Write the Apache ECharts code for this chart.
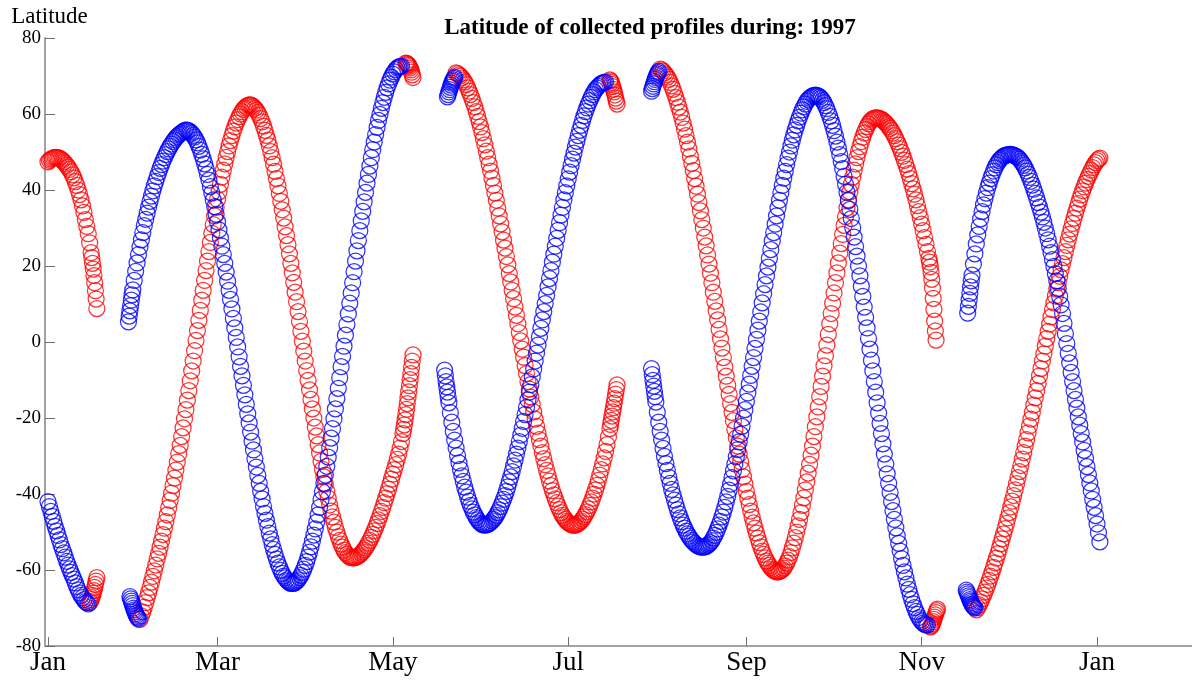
<!DOCTYPE html>
<html>
<head>
<meta charset="utf-8">
<script src="https://cdn.jsdelivr.net/npm/echarts@6/dist/echarts.min.js"></script>
<style>
  html, body { margin: 0; padding: 0; background: #fff; }
  #chart { width: 1192px; height: 680px; }
</style>
</head>
<body>
<div id="chart"></div>
<script>
// Day 0 = 1 January 1997. Each run is one continuous stretch of profiles:
// latitudes listed from the run's first day, one value per step (days).
const monthTickDays = [0, 59, 120, 181, 243, 304, 365];
const monthTickLabels = ['Jan', 'Mar', 'May', 'Jul', 'Sep', 'Nov', 'Jan'];

// ---- red profiles ----
const red1 = [47.4, 47.8, 48.1, 48.3, 48.5, 48.6, 48.6, 48.5, 48.4, 48.1, 47.8, 47.4, 47.0, 46.5, 46.0, 45.4, 44.8, 44.0, 43.2, 42.2,
  41.2, 40.0, 38.8, 37.4, 35.8, 34.1, 32.2, 30.4, 28.5, 26.1, 23.5];
const red1b = [22.2, 20.7, 19.2, 17.5, 15.6, 13.5, 11.3, 8.8];
const red2 = [-68.6, -68.3, -67.8, -67.3, -66.7, -66.1, -65.4, -64.6, -63.8, -62.9, -62.0];
const red3 = [
  -73.0, -72.1, -71.0, -69.8, -68.6, -67.3, -66.0, -64.6, -63.2, -61.7,
  -60.2, -58.7, -57.1, -55.6, -54.0, -52.4, -50.7, -49.0, -47.3, -45.5,
  -43.6, -41.7, -39.8, -37.8, -35.8, -33.7, -31.6, -29.4, -27.2, -24.9,
  -22.6, -20.2, -17.8, -15.3, -12.8, -10.2, -7.6, -5.0, -2.3, 0.4,
  3.0, 5.7, 8.3, 11.0, 13.6, 16.2, 18.8, 21.3, 23.8, 26.2,
  28.6, 30.9, 33.2, 35.4, 37.5, 39.5, 41.5, 43.4, 45.2, 46.9,
  48.6, 50.1, 51.6, 53.0, 54.3, 55.5, 56.6, 57.6, 58.5, 59.3,
  60.0, 60.6, 61.2, 61.6, 62.0, 62.3, 62.4, 62.4, 62.2, 61.9,
  61.5, 61.0, 60.4, 59.7, 58.8, 57.9, 56.8, 55.7, 54.4, 53.1,
  51.6, 50.1, 48.5, 46.8, 44.9, 43.0, 41.1, 39.1, 37.0, 34.8,
  32.6, 30.3, 28.0, 25.6, 23.2, 20.7, 18.2, 15.7, 13.1, 10.6,
  8.0, 5.4, 2.8, 0.2, -2.4, -5.0, -7.5, -10.1, -12.6, -15.1,
  -17.6, -20.0, -22.4, -24.7, -27.0, -29.2, -31.4, -33.5, -35.5, -37.4,
  -39.3, -41.1, -42.9, -44.5, -46.0, -47.4, -48.8, -50.0, -51.2, -52.2,
  -53.2, -54.0, -54.8, -55.4, -55.9, -56.3, -56.6, -56.7, -56.8, -56.8,
  -56.7, -56.5, -56.3, -56.0, -55.6, -55.2, -54.7, -54.2, -53.6, -52.9,
  -52.2, -51.4, -50.6, -49.7, -48.8, -47.8, -46.8, -45.7, -44.6, -43.5,
  -42.3, -41.1, -39.9, -38.7, -37.4, -36.1, -34.8, -33.6, -32.3, -30.9,
  -29.5, -27.9, -26.2, -24.1];
const red3b = [-23.0, -21.8, -20.5, -19.1, -17.7, -16.2, -14.7, -13.1, -11.5, -9.9, -8.3, -6.7, -5.0, -3.4];
const red4 = [73.4, 73.35, 73.2, 73.0, 72.8, 72.5, 72.1, 71.6, 71.0, 70.3, 69.6];
const red5 = [
  70.8, 70.6, 70.3, 70.0, 69.5, 69.0, 68.4, 67.7, 66.9, 66.0,
  65.1, 64.1, 63.0, 61.9, 60.6, 59.4, 58.0, 56.6, 55.1, 53.5,
  51.9, 50.2, 48.5, 46.8, 45.0, 43.1, 41.2, 39.2, 37.3, 35.2,
  33.2, 31.1, 29.0, 26.8, 24.7, 22.5, 20.3, 18.0, 15.8, 13.6,
  11.4, 9.2, 7.0, 4.8, 2.5, 0.3, -1.9, -4.0, -6.2, -8.3,
  -10.4, -12.4, -14.5, -16.4, -18.4, -20.3, -22.2, -24.0, -25.7, -27.4,
  -29.1, -30.7, -32.3, -33.8, -35.2, -36.6, -37.8, -39.1, -40.2, -41.3,
  -42.3, -43.2, -44.1, -44.9, -45.6, -46.2, -46.7, -47.2, -47.5, -47.8,
  -48.0, -48.2, -48.2, -48.2, -48.0, -47.8, -47.5, -47.1, -46.6, -46.0,
  -45.4, -44.7, -43.9, -43.0, -42.1, -41.1, -40.0, -38.9, -37.7, -36.4,
  -35.0, -33.6, -32.1, -30.5, -28.8, -27.0, -25.0, -22.8];
const red5b = [-21.7, -20.6, -19.5, -18.4, -17.3, -16.1, -14.9, -13.7, -12.5, -11.3];
const red6 = [69.0, 68.7, 68.3, 67.8, 67.2, 66.5, 65.8, 65.0, 64.2, 63.4, 62.6];
const red7 = [
  71.8, 71.6, 71.3, 70.8, 70.3, 69.7, 69.1, 68.3, 67.4, 66.5,
  65.4, 64.3, 63.1, 61.8, 60.5, 59.1, 57.6, 56.0, 54.3, 52.6,
  50.8, 48.9, 47.0, 45.1, 43.0, 41.0, 38.9, 36.7, 34.5, 32.2,
  30.0, 27.6, 25.3, 22.9, 20.5, 18.1, 15.6, 13.1, 10.7, 8.2,
  5.8, 3.3, 0.8, -1.6, -4.1, -6.6, -9.0, -11.4, -13.8, -16.2,
  -18.5, -20.7, -23.0, -25.2, -27.4, -29.5, -31.5, -33.6, -35.5, -37.4,
  -39.3, -41.1, -42.8, -44.5, -46.1, -47.6, -49.0, -50.3, -51.6, -52.8,
  -53.9, -55.0, -55.9, -56.8, -57.6, -58.2, -58.8, -59.3, -59.8, -60.1,
  -60.3, -60.5, -60.5, -60.4, -60.2, -59.9, -59.5, -58.9, -58.2, -57.4,
  -56.5, -55.4, -54.2, -52.9, -51.5, -50.0, -48.4, -46.7, -44.9, -43.0,
  -41.0, -38.9, -36.8, -34.5, -32.2, -29.8, -27.4, -24.9, -22.3, -19.7,
  -17.1, -14.4, -11.7, -9.0, -6.3, -3.6, -0.8, 2.0, 4.8, 7.5,
  10.2, 12.9, 15.6, 18.2, 20.8, 23.4, 25.9, 28.3, 30.7, 33.0,
  35.3, 37.4, 39.5, 41.5, 43.4, 45.2, 46.9, 48.5, 50.1, 51.4,
  52.7, 53.9, 55.0, 55.9, 56.7, 57.4, 58.0, 58.4, 58.7, 58.9,
  59.0, 59.0, 58.9, 58.8, 58.6, 58.3, 58.0, 57.6, 57.2, 56.7,
  56.2, 55.6, 55.0, 54.3, 53.5, 52.7, 51.8, 50.9, 49.9, 48.9,
  47.8, 46.7, 45.5, 44.3, 43.0, 41.7, 40.3, 38.9, 37.4, 35.9,
  34.3, 32.7, 31.0, 29.3, 27.5, 25.7, 23.8, 22.0];
const red7b = [21.0, 19.8, 18.3, 16.5, 14.2, 11.5, 8.6, 5.5, 2.9, 0.5];
const red8 = [-75.0, -74.8, -74.5, -74.1, -73.6, -73.0, -72.4, -71.8, -71.2, -70.7, -70.3];
const red9 = [
  -70.5, -69.9, -69.2, -68.4, -67.6, -66.7, -65.8, -64.8, -63.8, -62.7,
  -61.6, -60.5, -59.3, -58.1, -56.9, -55.7, -54.4, -53.1, -51.8, -50.5,
  -49.1, -47.7, -46.3, -44.9, -43.4, -41.9, -40.4, -38.9, -37.3, -35.7,
  -34.1, -32.5, -30.8, -29.1, -27.4, -25.7, -23.9, -22.1, -20.3, -18.5,
  -16.6, -14.7, -12.8, -10.9, -8.9, -7.0, -5.0, -3.1, -1.1, 0.9,
  2.8, 4.7, 6.6, 8.5, 10.3, 12.1, 13.9, 15.6, 17.3, 19.0,
  20.6, 22.2, 23.8, 25.4, 26.9, 28.4, 29.8, 31.2, 32.6, 33.9,
  35.2, 36.4, 37.6, 38.7, 39.8, 40.8, 41.8, 42.7, 43.6, 44.4,
  45.2, 45.9, 46.6, 47.2, 47.7, 48.1, 48.4];
const redRuns     = [red1, red1b, red2, red3, red3b, red4, red5, red5b, red6, red7, red7b, red8, red9];
const redRunStart = [0, 15.25, 14.5, 32, 123.75, 124.5, 142, 195.75, 195.5, 213, 306.75, 307, 323];
const redRunStep  = [0.5, 0.25, 0.25, 0.5, 0.25, 0.25, 0.5, 0.25, 0.25, 0.5, 0.25, 0.25, 0.5];

// ---- blue profiles ----
const blue1 = [-42.0, -43.3, -44.6, -45.9, -47.2, -48.5, -49.7, -50.9, -52.1, -53.3,
  -54.4, -55.5, -56.6, -57.7, -58.7, -59.7, -60.6, -61.5, -62.4, -63.4,
  -64.4, -65.2, -66.0, -66.7, -67.3, -67.8, -68.3, -68.6, -68.9];
const blue2 = [-67.0, -67.6, -68.2, -68.8, -69.4, -70.0, -70.5, -71.0, -71.5, -71.9, -72.3, -72.6, -72.9];
const blue3a = [5.3, 6.8, 8.2, 9.6, 11.0, 12.4, 13.7];
const blue3 = [
  16.2, 18.6, 20.8, 23.0, 25.0, 26.9,
  28.8, 30.6, 32.3, 33.9, 35.5, 37.0, 38.4, 39.8, 41.1, 42.3,
  43.5, 44.6, 45.7, 46.7, 47.6, 48.5, 49.3, 50.1, 50.8, 51.5,
  52.1, 52.7, 53.2, 53.7, 54.1, 54.5, 54.8, 55.1, 55.4, 55.6,
  55.8, 55.7, 55.6, 55.3, 54.9, 54.4, 53.9, 53.2, 52.4, 51.5,
  50.5, 49.4, 48.2, 46.9, 45.6, 44.1, 42.6, 40.9, 39.2, 37.4,
  35.6, 33.6, 31.6, 29.5, 27.4, 25.2, 23.0, 20.7, 18.4, 16.0,
  13.6, 11.2, 8.7, 6.2, 3.7, 1.2, -1.3, -3.9, -6.4, -8.9,
  -11.4, -13.9, -16.4, -18.9, -21.3, -23.7, -26.1, -28.4, -30.7, -32.9,
  -35.1, -37.2, -39.3, -41.3, -43.3, -45.1, -46.9, -48.6, -50.3, -51.8,
  -53.3, -54.6, -55.9, -57.1, -58.2, -59.2, -60.1, -60.9, -61.6, -62.1,
  -62.6, -63.0, -63.3, -63.5, -63.5, -63.5, -63.3, -63.0, -62.6, -62.0,
  -61.4, -60.6, -59.8, -58.8, -57.8, -56.6, -55.3, -53.9, -52.4, -50.8,
  -49.2, -47.4, -45.5, -43.5, -41.5, -39.4, -37.2, -35.0, -32.7, -30.3,
  -27.8, -25.3, -22.8, -20.2, -17.6, -14.9, -12.2, -9.4, -6.5, -3.8,
  -1.1, 1.8, 4.6, 7.4, 10.2, 12.9, 15.6, 18.5, 21.3, 24.0,
  26.7, 29.3, 31.9, 34.4, 36.9, 39.4, 41.8, 44.1, 46.3, 48.5,
  50.6, 52.6, 54.6, 56.5, 58.3, 59.9, 61.5, 63.0, 64.4, 65.7,
  66.9, 67.9, 68.9, 69.7, 70.5, 71.1, 71.7, 72.1, 72.4, 72.5,
  72.6];
const blue4 = [64.5, 65.1, 65.8, 66.4, 67.0, 67.6, 68.1, 68.6, 69.0, 69.4, 69.7];
const blue5a = [-7.4, -8.9, -10.4, -11.8, -13.2, -14.6, -16.0];
const blue5 = [
  -18.6, -21.1, -23.5, -25.8, -27.9, -29.9,
  -31.8, -33.5, -35.2, -36.7, -38.2, -39.5, -40.8, -41.9, -43.0, -43.9,
  -44.8, -45.5, -46.2, -46.8, -47.3, -47.7, -48.0, -48.1, -48.2, -48.1,
  -48.0, -47.8, -47.5, -47.1, -46.7, -46.2, -45.6, -44.9, -44.2, -43.3,
  -42.4, -41.4, -40.4, -39.3, -38.1, -36.8, -35.5, -34.1, -32.6, -31.1,
  -29.5, -27.9, -26.2, -24.5, -22.7, -20.9, -19.1, -17.2, -15.2, -13.2,
  -11.2, -9.2, -7.1, -5.0, -2.9, -0.8, 1.4, 3.6, 5.8, 8.0,
  10.1, 12.3, 14.5, 16.7, 18.8, 21.0, 23.1, 25.2, 27.3, 29.4,
  31.4, 33.4, 35.4, 37.4, 39.3, 41.1, 42.9, 44.7, 46.4, 48.1,
  49.7, 51.3, 52.8, 54.3, 55.7, 57.0, 58.3, 59.5, 60.6, 61.6,
  62.6, 63.5, 64.4, 65.1, 65.8, 66.4, 66.9, 67.3, 67.7, 68.0,
  68.2, 68.3, 68.4];
const blue6 = [66.0, 66.7, 67.3, 67.9, 68.5, 69.1, 69.6, 70.1, 70.5, 70.9, 71.2];
const blue7a = [-7.0, -8.6, -10.1, -11.6, -13.0, -14.4, -15.8];
const blue7 = [
  -18.5, -21.1, -23.5, -25.8, -28.0, -30.1,
  -32.0, -33.8, -35.6, -37.2, -38.8, -40.2, -41.6, -42.9, -44.1, -45.2,
  -46.3, -47.3, -48.2, -49.0, -49.8, -50.5, -51.1, -51.7, -52.2, -52.6,
  -53.0, -53.3, -53.6, -53.8, -53.9, -54.0, -54.0, -53.9, -53.8, -53.5,
  -53.2, -52.8, -52.3, -51.6, -50.9, -50.1, -49.2, -48.2, -47.2, -46.0,
  -44.8, -43.5, -42.1, -40.6, -39.0, -37.4, -35.7, -33.9, -32.1, -30.2,
  -28.3, -26.3, -24.3, -22.2, -20.0, -17.8, -15.6, -13.4, -11.1, -8.8,
  -6.4, -4.1, -1.7, 0.7, 3.1, 5.5, 7.9, 10.3, 12.7, 15.1,
  17.4, 19.7, 22.0, 24.3, 26.6, 28.8, 31.0, 33.2, 35.3, 37.3,
  39.3, 41.2, 43.1, 44.9, 46.7, 48.4, 50.0, 51.6, 53.1, 54.5,
  55.8, 57.0, 58.2, 59.2, 60.2, 61.1, 61.9, 62.6, 63.3, 63.8,
  64.2, 64.5, 64.8, 64.9, 65.0, 64.9, 64.8, 64.5, 64.1, 63.6,
  63.0, 62.2, 61.4, 60.4, 59.4, 58.2, 57.0, 55.6, 54.2, 52.6,
  51.0, 49.3, 47.5, 45.6, 43.6, 41.5, 39.4, 37.2, 34.9, 32.5,
  30.1, 27.6, 25.1, 22.6, 20.0, 17.4, 14.7, 12.0, 9.2, 6.5,
  3.7, 0.9, -1.9, -4.8, -7.6, -10.4, -13.2, -16.0, -18.7, -21.4,
  -24.1, -26.8, -29.5, -32.1, -34.7, -37.2, -39.6, -42.0, -44.4, -46.7,
  -48.9, -51.0, -53.0, -55.0, -57.0, -58.8, -60.5, -62.1, -63.7, -65.1,
  -66.5, -67.7, -68.9, -69.9, -70.9, -71.7, -72.5, -73.1, -73.6, -74.0,
  -74.3, -74.4, -74.5];
const blue8 = [-65.3, -65.8, -66.3, -66.8, -67.3, -67.8, -68.2, -68.6, -69.0, -69.3, -69.6, -69.8, -70.0];
const blue9a = [7.6, 9.4, 11.1, 12.8, 14.5, 16.1, 17.6];
const blue9 = [
  20.5, 23.2, 25.8, 28.2, 30.4, 32.4,
  34.3, 36.1, 37.7, 39.2, 40.6, 41.8, 43.0, 44.0, 45.0, 45.8,
  46.6, 47.2, 47.8, 48.2, 48.6, 48.9, 49.1, 49.2, 49.3, 49.4,
  49.4, 49.3, 49.2, 49.0, 48.8, 48.5, 48.1, 47.6, 47.1, 46.5,
  45.8, 45.0, 44.2, 43.3, 42.3, 41.3, 40.2, 39.1, 37.9, 36.7,
  35.5, 34.2, 32.9, 31.5, 30.0, 28.5, 26.9, 25.2, 23.5, 21.7,
  19.9, 18.0, 16.1, 14.1, 12.0, 9.8, 7.5, 4.9, 2.2, -0.4,
  -3.0, -5.5, -8.0, -10.4, -12.8, -15.1, -17.4, -19.7, -21.9, -24.1,
  -26.3, -28.5, -30.6, -32.8, -34.9, -37.1, -39.2, -41.4, -43.5, -45.7,
  -47.9, -50.2, -52.6];
const blueRuns     = [blue1, blue2, blue3a, blue3, blue4, blue5a, blue5, blue6, blue7a, blue7, blue8, blue9a, blue9];
const blueRunStart = [0, 28.5, 28, 30, 139, 138, 140, 210, 210, 212, 319.5, 320, 322];
const blueRunStep  = [0.5, 0.25, 0.25, 0.5, 0.25, 0.25, 0.5, 0.25, 0.25, 0.5, 0.25, 0.25, 0.5];

// Flatten runs into [day, latitude] points.
function toPoints(runs, starts, steps) {
  const pts = [];
  runs.forEach((lat, i) => {
    lat.forEach((v, j) => pts.push([starts[i] + j * steps[i], v]));
  });
  return pts;
}

const redPoints = toPoints(redRuns, redRunStart, redRunStep);
const bluePoints = toPoints(blueRuns, blueRunStart, blueRunStep);

const serif = 'Liberation Serif, Times New Roman, serif';

function ringSeries(name, data, color) {
  return {
    name: name,
    type: 'scatter',
    data: data,
    symbol: 'circle',
    symbolSize: 16,
    itemStyle: { color: 'rgba(0,0,0,0)', borderColor: color, borderWidth: 1.25 },
    emphasis: { disabled: true },
    silent: true
  };
}

const chart = echarts.init(document.getElementById('chart'));
chart.setOption({
  animation: false,
  backgroundColor: '#ffffff',
  title: {
    text: 'Latitude of collected profiles during: 1997',
    left: 645,
    top: 12,
    textAlign: 'center',
    textStyle: { fontFamily: serif, fontWeight: 'bold', fontSize: 23, color: '#000' }
  },
  grid: { left: 45, right: 0, top: 38, bottom: 34, containLabel: false },
  xAxis: {
    type: 'value',
    min: -1.04,
    max: 398.05,
    splitLine: { show: false },
    axisLine: { show: true, onZero: false, lineStyle: { color: '#a3a3a3', width: 2 } },
    axisTick: { show: true, inside: true, length: 9, customValues: monthTickDays, lineStyle: { color: '#707070', width: 1 } },
    axisLabel: {
      customValues: monthTickDays,
      formatter: function (v) { return monthTickLabels[monthTickDays.indexOf(v)]; },
      fontFamily: serif, fontSize: 27, color: '#000', margin: 3
    }
  },
  yAxis: {
    type: 'value',
    min: -80,
    max: 80,
    interval: 20,
    name: 'Latitude',
    nameLocation: 'end',
    nameGap: 5,
    nameTextStyle: { fontFamily: serif, fontSize: 23, color: '#000', align: 'center', padding: [0, 0, 0, 9] },
    splitLine: { show: false },
    axisLine: { show: true, onZero: false, lineStyle: { color: '#a3a3a3', width: 2 } },
    axisTick: { show: true, inside: true, length: 10, lineStyle: { color: '#707070', width: 1 } },
    axisLabel: { fontFamily: serif, fontSize: 19, color: '#000', margin: 4 }
  },
  series: [
    ringSeries('red', redPoints, '#ff0000'),
    ringSeries('blue', bluePoints, '#0000ff')
  ]
});
</script>
</body>
</html>
